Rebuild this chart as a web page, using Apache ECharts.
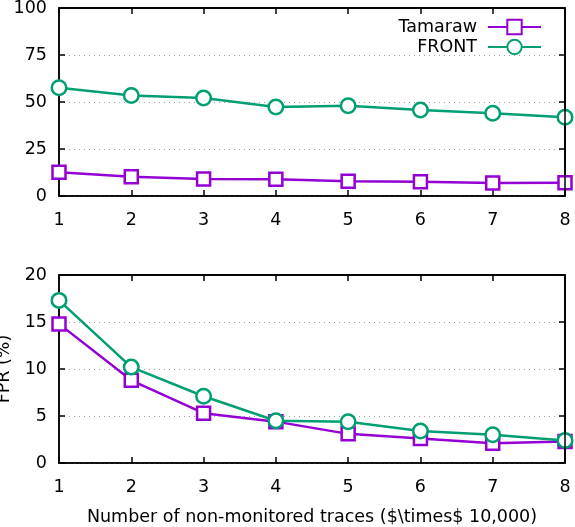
<!DOCTYPE html>
<html>
<head>
<meta charset="utf-8">
<script src="https://cdn.jsdelivr.net/npm/echarts@6/dist/echarts.min.js"></script>
<style>
html,body{margin:0;padding:0;background:#fff;}
#c{width:575px;height:527px;}
</style>
</head>
<body>
<div id="c"></div>
<script>
const xValues = [1, 2, 3, 4, 5, 6, 7, 8];
const topTamaraw = [12.6, 10.3, 9.0, 8.9, 7.8, 7.6, 6.9, 7.1];
const topFront = [57.6, 53.4, 52.1, 47.3, 48.0, 45.7, 44.0, 41.9];
const botTamaraw = [14.8, 8.8, 5.3, 4.4, 3.1, 2.6, 2.1, 2.3];
const botFront = [17.3, 10.2, 7.1, 4.5, 4.4, 3.4, 3.0, 2.4];
const seriesNames = ['Tamaraw', 'FRONT'];
const xTitle = 'Number of non-monitored traces ($\\times$ 10,000)';
const yTitleBottom = 'FPR (%)';

const FONT = 'DejaVu Sans';
const FS = 17.5;
const PURPLE = '#9400d3';
const GREEN = '#009e73';

function pairs(ys) { return xValues.map((x, i) => [x, ys[i]]); }

const chart = echarts.init(document.getElementById('c'), null, {renderer: 'canvas'});

function axisLine() { return {show: true, onZero: false, lineStyle: {color: '#000', width: 1.5}}; }
function tick() { return {show: true, inside: true, length: 6, lineStyle: {color: '#000', width: 1.5}}; }
function lbl(margin) { return {show: true, margin, color: '#000', fontFamily: FONT, fontSize: FS}; }
function nameStyle() { return {color: '#000', fontFamily: FONT, fontSize: FS}; }

function xAxisOf(gi, pos, withLabels, withName) {
  return {
    type: 'value', gridIndex: gi, min: 1, max: 8, interval: 1, position: pos,
    axisLine: axisLine(), axisTick: tick(), splitLine: {show: false},
    axisLabel: withLabels ? lbl(15) : {show: false},
    name: withName ? xTitle : '', nameLocation: 'middle', nameGap: 45,
    nameTextStyle: nameStyle()
  };
}
function yAxisOf(gi, pos, max, interval, withLabels, name) {
  return {
    type: 'value', gridIndex: gi, min: 0, max, interval, position: pos,
    axisLine: axisLine(), axisTick: tick(),
    splitLine: withLabels ? {show: true, lineStyle: {color: '#a0a0a0', width: 1, type: [1, 4]}} : {show: false},
    axisLabel: withLabels ? lbl(12) : {show: false},
    name: name || '', nameLocation: 'middle', nameGap: 38, nameRotate: 90,
    nameTextStyle: nameStyle()
  };
}

function mk(name, data, color, symbol, size, xi, yi) {
  return {
    name, type: 'line', data, xAxisIndex: xi, yAxisIndex: yi,
    symbol, symbolSize: size, showSymbol: true,
    lineStyle: {color, width: 2.5},
    itemStyle: {color: '#fff', borderColor: color, borderWidth: 2.5},
    z: 3
  };
}

chart.setOption({
  animation: false,
  grid: [
    {left: 59, right: 10, top: 8, height: 188, outerBoundsMode: 'none', show: true, borderColor: '#000', borderWidth: 1.5},
    {left: 59, right: 10, top: 275, height: 188, outerBoundsMode: 'none', show: true, borderColor: '#000', borderWidth: 1.5}
  ],
  legend: {
    data: seriesNames,
    orient: 'vertical', align: 'right',
    right: 33, top: 18, padding: 0,
    itemWidth: 53, itemHeight: 18, itemGap: 2,
    textStyle: {color: '#000', fontFamily: FONT, fontSize: FS, padding: [0, 6, 0, 0]},
    selectedMode: false
  },
  xAxis: [
    xAxisOf(0, 'bottom', true, false),
    xAxisOf(0, 'top', false, false),
    xAxisOf(1, 'bottom', true, true),
    xAxisOf(1, 'top', false, false)
  ],
  yAxis: [
    yAxisOf(0, 'left', 100, 25, true, ''),
    yAxisOf(0, 'right', 100, 25, false, ''),
    yAxisOf(1, 'left', 20, 5, true, yTitleBottom),
    yAxisOf(1, 'right', 20, 5, false, '')
  ],
  series: [
    mk(seriesNames[0], pairs(topTamaraw), PURPLE, 'rect', 13, 0, 0),
    mk(seriesNames[1], pairs(topFront), GREEN, 'circle', 14.5, 0, 0),
    mk(seriesNames[0], pairs(botTamaraw), PURPLE, 'rect', 13, 2, 2),
    mk(seriesNames[1], pairs(botFront), GREEN, 'circle', 14.5, 2, 2)
  ]
});

// Frame: top and right borders positioned through the library's own scales.
function frameFor(xi, yi, ymax) {
  const tl = chart.convertToPixel({xAxisIndex: xi, yAxisIndex: yi}, [1, ymax]);
  const br = chart.convertToPixel({xAxisIndex: xi, yAxisIndex: yi}, [8, 0]);
  return [
    {type: 'line', z: 50, shape: {x1: tl[0], y1: tl[1], x2: br[0], y2: tl[1]}, style: {stroke: '#000', lineWidth: 1.5}, silent: true},
    {type: 'line', z: 50, shape: {x1: br[0], y1: tl[1], x2: br[0], y2: br[1]}, style: {stroke: '#000', lineWidth: 1.5}, silent: true}
  ];
}
try {
  chart.setOption({graphic: {elements: frameFor(0, 0, 100).concat(frameFor(2, 2, 20))}});
} catch (e) {}
</script>
</body>
</html>
